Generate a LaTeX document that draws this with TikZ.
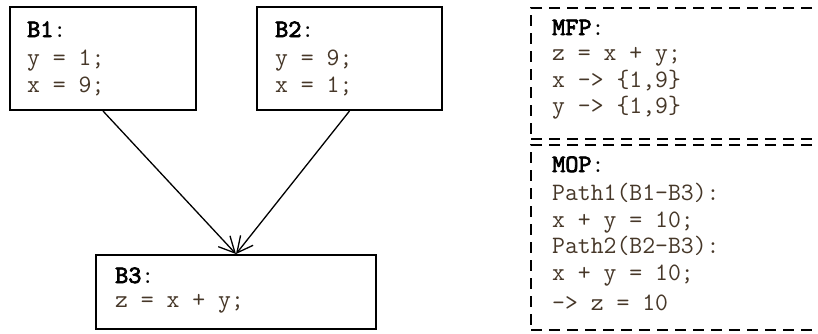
\documentclass[tikz,border=0pt]{standalone}
\usepackage{fontspec}
\newfontfamily\ttlfont{lmmono10-regular.otf}[FakeBold=3]
\usetikzlibrary{arrows.meta}
\definecolor{codecol}{RGB}{70,55,40}
\newcommand{\ttlb}[1]{{\ttlfont #1}}
\begin{document}
\begin{tikzpicture}[x=1pt,y=-1pt,
  blk/.style={draw, line width=2pt, inner sep=0pt, anchor=north west},
  dbox/.style={draw, line width=2pt, dash pattern=on 11pt off 7pt, inner sep=0pt, anchor=north west},
  code/.style={anchor=base west, inner sep=0pt, font=\fontsize{25}{27}\selectfont\ttfamily, text=codecol},
  ttl/.style={code, text=black},
  flow/.style={line width=1.3pt, -{Straight Barb[length=16pt,width=16pt,line width=1.3pt]}}]
\clip (0,0) rectangle (818,333);
\fill[white] (0,0) rectangle (818,333);
% boxes
\node[blk, minimum width=186pt, minimum height=103pt] (b1) at (9,6) {};
\node[blk, minimum width=185pt, minimum height=103pt] (b2) at (256,6) {};
\node[blk, minimum width=280pt, minimum height=74pt] (b3) at (95,254) {};
\node[dbox, minimum width=300pt, minimum height=131pt] (mfp) at (530,7) {};
\node[dbox, minimum width=300pt, minimum height=185pt] (mop) at (530,144) {};
% texts B1
\node[ttl] (b1t) at (27,37) {\ttlb{B1}:};
\node[code] (b1a) at (27,65) {y = 1;};
\node[code] (b1b) at (27,92) {x = 9;};
% texts B2
\node[ttl] (b2t) at (275,37) {\ttlb{B2}:};
\node[code] (b2a) at (275,65) {y = 9;};
\node[code] (b2b) at (275,92) {x = 1;};
% texts B3
\node[ttl] (b3t) at (115,283) {\ttlb{B3}:};
\node[code] (b3a) at (115,307) {z = x + y;};
% MFP
\node[ttl] (mfpt) at (552,35) {\ttlb{MFP}:};
\node[code] (mfpa) at (552,60) {z = x + y;};
\node[code] (mfpb) at (552,87) {x -> \{1,9\}};
\node[code] (mfpc) at (552,113) {y -> \{1,9\}};
% MOP
\node[ttl] (mopt) at (552,172) {\ttlb{MOP}:};
\node[code] (mopa) at (552,200) {Path1(B1-B3):};
\node[code] (mopb) at (552,227) {x + y = 10;};
\node[code] (mopc) at (552,253) {Path2(B2-B3):};
\node[code] (mopd) at (552,280) {x + y = 10;};
\node[code] (mope) at (552,310) {-> z = 10};
% connectors
\draw[flow] (b1.south) -- (b3.north);
\draw[flow] (b2.south) -- (b3.north);
\end{tikzpicture}
\end{document}
